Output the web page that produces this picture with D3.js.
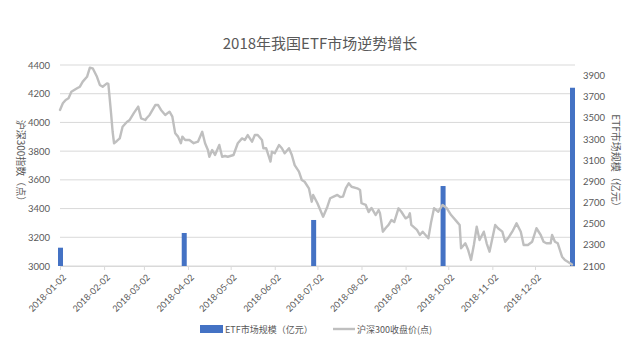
<!DOCTYPE html>
<html><head><meta charset="utf-8">
<script src="https://cdn.jsdelivr.net/npm/d3@7"></script>
<style>
html,body{margin:0;padding:0;background:#fff;}
svg{display:block;}
</style></head>
<body>
<svg id="chart" width="640" height="364"></svg>
<script>
// ---- data ----
const lineDates = ["2018-01-02","2018-01-04","2018-01-06","2018-01-08","2018-01-10","2018-01-12","2018-01-14","2018-01-16","2018-01-18","2018-01-21","2018-01-23","2018-01-25","2018-01-28","2018-01-30","2018-02-01","2018-02-04","2018-02-05","2018-02-07","2018-02-08","2018-02-09","2018-02-11","2018-02-13","2018-02-15","2018-02-18","2018-02-20","2018-02-23","2018-02-26","2018-02-28","2018-03-03","2018-03-04","2018-03-06","2018-03-10","2018-03-12","2018-03-14","2018-03-17","2018-03-20","2018-03-22","2018-03-24","2018-03-26","2018-03-28","2018-03-29","2018-03-31","2018-04-03","2018-04-06","2018-04-09","2018-04-12","2018-04-14","2018-04-16","2018-04-17","2018-04-19","2018-04-21","2018-04-24","2018-04-26","2018-04-28","2018-04-30","2018-05-04","2018-05-07","2018-05-10","2018-05-12","2018-05-14","2018-05-17","2018-05-19","2018-05-21","2018-05-24","2018-05-25","2018-05-27","2018-05-30","2018-05-31","2018-06-02","2018-06-05","2018-06-07","2018-06-09","2018-06-12","2018-06-14","2018-06-16","2018-06-19","2018-06-21","2018-06-23","2018-06-26","2018-06-28","2018-06-29","2018-07-02","2018-07-04","2018-07-06","2018-07-09","2018-07-11","2018-07-13","2018-07-16","2018-07-18","2018-07-20","2018-07-22","2018-07-24","2018-07-26","2018-07-30","2018-08-01","2018-08-02","2018-08-05","2018-08-07","2018-08-09","2018-08-12","2018-08-14","2018-08-15","2018-08-17","2018-08-19","2018-08-21","2018-08-23","2018-08-25","2018-08-28","2018-08-30","2018-09-02","2018-09-04","2018-09-05","2018-09-06","2018-09-10","2018-09-12","2018-09-14","2018-09-18","2018-09-20","2018-09-22","2018-09-25","2018-09-28","2018-10-01","2018-10-04","2018-10-08","2018-10-10","2018-10-11","2018-10-14","2018-10-16","2018-10-18","2018-10-20","2018-10-22","2018-10-24","2018-10-27","2018-10-29","2018-10-31","2018-11-04","2018-11-06","2018-11-09","2018-11-11","2018-11-13","2018-11-16","2018-11-19","2018-11-22","2018-11-24","2018-11-27","2018-11-30","2018-12-03","2018-12-06","2018-12-08","2018-12-10","2018-12-13","2018-12-14","2018-12-16","2018-12-18","2018-12-21","2018-12-23","2018-12-25","2018-12-28"];
const csi300 = [4087,4133,4156,4168,4214,4226,4238,4249,4284,4318,4381,4377,4318,4261,4249,4272,4268,4052,3935,3855,3871,3889,3970,4003,4017,4066,4110,4029,4017,4031,4052,4121,4121,4087,4052,4075,4040,3924,3901,3855,3901,3878,3878,3855,3866,3935,3855,3808,3761,3808,3773,3843,3761,3766,3761,3773,3855,3889,3878,3912,3866,3912,3912,3878,3820,3820,3727,3796,3785,3843,3820,3785,3820,3773,3703,3657,3599,3587,3541,3448,3495,3437,3390,3343,3413,3472,3481,3495,3481,3483,3543,3576,3552,3541,3529,3437,3425,3376,3404,3355,3390,3367,3239,3265,3286,3320,3306,3402,3378,3332,3343,3367,3286,3251,3216,3239,3193,3309,3402,3378,3425,3402,3355,3309,3286,3123,3158,3111,3042,3146,3274,3181,3239,3158,3100,3286,3263,3239,3169,3193,3239,3297,3239,3146,3146,3169,3263,3216,3169,3158,3158,3216,3169,3158,3065,3042,3030,3011];
const etfDates = ["2018-01-02","2018-03-30","2018-06-29","2018-09-28","2018-12-28"];
const etfSize = [2273,2412,2535,2856,3785];
const xTickDates = ["2018-01-02","2018-02-02","2018-03-02","2018-04-02","2018-05-02","2018-06-02","2018-07-02","2018-08-02","2018-09-02","2018-10-02","2018-11-02","2018-12-02"];
const leftTicks = [3000,3200,3400,3600,3800,4000,4200,4400];
const rightTicks = [2100,2300,2500,2700,2900,3100,3300,3500,3700,3900];
const titleText = "2018年我国ETF市场逆势增长";
const leftTitle = "沪深300指数（点）";
const rightTitle = "ETF市场规模（亿元）";
const legendBar = "ETF市场规模（亿元）";
const legendLine = "沪深300收盘价(点)";

// ---- chart ----
const parse = d3.timeParse("%Y-%m-%d");
const svg = d3.select("#chart");
const plotL = 60, plotR = 575, plotT = 65, plotB = 266;
const numFont = "Lato, 'Noto Sans CJK SC', sans-serif";
const cjkFont = "'Noto Sans CJK SC', 'Noto Sans', sans-serif";
const txtCol = "#595959";

const x = d3.scaleTime().domain([parse("2018-01-02"), parse("2018-12-28")]).range([60, 572]);
const yL = d3.scaleLinear().domain([3000, 4400]).range([plotB, plotT]);
const yR = d3.scaleLinear().domain([2100, 4000]).range([plotB, plotT]);

// title
svg.append("text").attr("x", 320).attr("y", 49).attr("text-anchor", "middle")
  .style("font-family", cjkFont).style("font-size", "15px").attr("fill", txtCol).text(titleText);

// gridlines (left axis)
svg.append("g").selectAll("line").data(leftTicks).join("line")
  .attr("x1", plotL).attr("x2", plotR).attr("y1", d => yL(d)).attr("y2", d => yL(d))
  .attr("stroke", "#D9D9D9").attr("stroke-width", 1);

// left axis
const gL = svg.append("g").attr("transform", `translate(${plotL},0)`)
  .call(d3.axisLeft(yL).tickValues(leftTicks).tickFormat(d3.format("d")).tickSize(0).tickPadding(10));
gL.select(".domain").remove();
gL.selectAll("text").style("font-family", numFont).style("font-size", "9.5px").attr("fill", txtCol);

// right axis
const gR = svg.append("g").attr("transform", `translate(${plotR},0)`)
  .call(d3.axisRight(yR).tickValues(rightTicks).tickFormat(d3.format("d")).tickSize(0).tickPadding(8));
gR.select(".domain").remove();
gR.selectAll("text").style("font-family", numFont).style("font-size", "9.5px").attr("fill", txtCol);

// x axis
const gX = svg.append("g").attr("transform", `translate(0,${plotB})`)
  .call(d3.axisBottom(x).tickValues(xTickDates.map(parse)).tickFormat(d3.timeFormat("%Y-%m-%d")).tickSize(4).tickPadding(2));
gX.select(".domain").attr("d", `M${plotL},0.5H${plotR}`).attr("stroke", "#D9D9D9");
gX.selectAll(".tick line").attr("stroke", "#D9D9D9");
gX.selectAll("text").style("font-family", numFont).style("font-size", "9px").attr("fill", txtCol)
  .attr("text-anchor", "end").attr("dy", "0.3em")
  .attr("transform", "translate(0,6) rotate(-45)");

// bars
const barW = 5;
svg.append("g").selectAll("rect").data(etfDates.map((d, i) => ({d: parse(d), v: etfSize[i]}))).join("rect")
  .attr("x", d => x(d.d) - barW / 2 + 0.5).attr("width", barW)
  .attr("y", d => yR(d.v)).attr("height", d => yR(2100) - yR(d.v))
  .attr("fill", "#4472C4");

// line
const lineData = lineDates.map((d, i) => ({d: parse(d), v: csi300[i]}));
svg.append("path").datum(lineData)
  .attr("d", d3.line().x(d => x(d.d)).y(d => yL(d.v)))
  .attr("fill", "none").attr("stroke", "#BFBFBF").attr("stroke-width", 2.4)
  .attr("stroke-linejoin", "round").attr("stroke-linecap", "round");

// axis titles
svg.append("text").attr("transform", "translate(17,163) rotate(90)").attr("text-anchor", "middle")
  .style("font-family", cjkFont).style("font-size", "10px").attr("fill", txtCol).text(leftTitle);
svg.append("text").attr("transform", "translate(612,163) rotate(90)").attr("text-anchor", "middle")
  .style("font-family", cjkFont).style("font-size", "10px").attr("fill", txtCol).text(rightTitle);

// legend
const lg = svg.append("g");
lg.append("rect").attr("x", 200).attr("y", 325).attr("width", 23).attr("height", 8).attr("fill", "#4472C4");
lg.append("text").attr("x", 225).attr("y", 332.5).style("font-family", cjkFont).style("font-size", "9px")
  .attr("fill", txtCol).text(legendBar);
lg.append("line").attr("x1", 333).attr("x2", 355).attr("y1", 329).attr("y2", 329)
  .attr("stroke", "#BFBFBF").attr("stroke-width", 2.4);
lg.append("text").attr("x", 357).attr("y", 332.5).style("font-family", cjkFont).style("font-size", "9px")
  .attr("fill", txtCol).text(legendLine);
</script>
</body></html>
